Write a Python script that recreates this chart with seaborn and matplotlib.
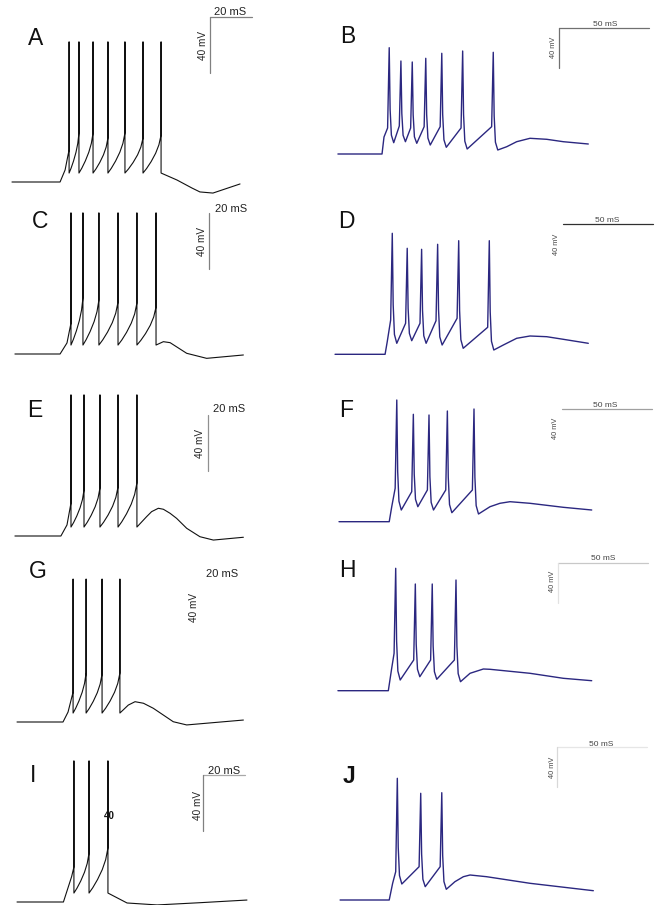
import matplotlib
matplotlib.use("Agg")
import matplotlib.pyplot as plt
import pandas as pd
import seaborn as sns

sns.set_style("white")
plt.rcParams['font.family'] = ['Liberation Sans', 'DejaVu Sans']

# ---------------- data (time in ms, membrane potential in mV) ----------------
# Left column (black traces)
A_onset_t = [5.7, 28.6, 31.0, 32.4]
A_onset_v = [-65, -65, -56.4, -45.7]
A_spike_t = [32.9, 37.6, 44.3, 51.4, 59.5, 68.1, 76.7]
A_pre_v = [-42.1, -30.0, -30.0, -33.6, -30.0, -33.6, -31.4]
A_peak_v = [35, 35, 35, 35, 35, 35, 35]
A_trough_v = [-58.6, -58.6, -58.6, -58.6, -58.6, -58.6, -58.6]
A_tail_t = [84.3, 91.4, 95.2, 101.4, 114.3]
A_tail_v = [-63.6, -69.3, -72.1, -72.9, -66.4]

C_onset_t = [7.1, 28.6, 31.9]
C_onset_v = [-65, -65, -57.1]
C_spike_t = [33.8, 39.5, 47.1, 56.2, 65.2, 74.3]
C_pre_v = [-42.9, -25.0, -26.4, -27.9, -28.6, -31.4]
C_peak_v = [35.7, 35.7, 35.7, 35.7, 35.7, 35.7]
C_trough_v = [-58.6, -58.6, -58.6, -58.6, -58.6, -58.6]
C_tail_t = [77.8, 81.0, 88.9, 98.4, 115.9]
C_tail_v = [-56.2, -56.9, -64.5, -68.1, -65.7]

E_onset_t = [7.1, 29.0, 31.9]
E_onset_v = [-65, -65, -57.1]
E_spike_t = [33.8, 40.0, 47.6, 56.2, 65.2]
E_pre_v = [-41.4, -32.1, -30.7, -30.0, -27.1]
E_peak_v = [35.7, 35.7, 35.7, 35.7, 35.7]
E_trough_v = [-58.6, -58.6, -58.6, -58.6, -58.6]
E_tail_t = [69.8, 72.2, 75.4, 77.8, 81.0, 84.1, 88.9, 95.2, 101.6, 115.9]
E_tail_v = [-51.2, -47.6, -45.2, -45.9, -48.8, -52.4, -59.5, -65.5, -67.9, -65.9]

G_onset_t = [8.1, 30.0, 32.4]
G_onset_v = [-65, -65, -57.9]
G_spike_t = [34.8, 41.0, 48.6, 57.1]
G_pre_v = [-43.6, -30.0, -30.7, -30.0]
G_peak_v = [37, 37, 37, 37]
G_trough_v = [-58.6, -58.6, -58.6, -58.6]
G_tail_t = [61.1, 64.3, 68.3, 73.0, 82.5, 88.9, 115.9]
G_tail_v = [-52.9, -50.5, -51.6, -55.2, -64.8, -67.1, -63.6]

I_onset_t = [8.1, 30.2, 34.1]
I_onset_v = [-65, -65, -46.9]
I_spike_t = [35.2, 42.4, 51.4]
I_pre_v = [-40.0, -30.0, -26.4]
I_peak_v = [35.7, 35.7, 35.7]
I_trough_v = [-58.6, -58.6, -58.6]
I_tail_t = [60.5, 74.8, 95.2, 117.6]
I_tail_v = [-65.7, -67.1, -65.5, -63.6]

# Right column (blue traces)
B_onset_t = [4.4, 28.9, 30.0]
B_onset_v = [-65, -65, -48]
B_spike_t = [32.9, 39.4, 45.7, 53.2, 62.1, 73.7, 90.7]
B_pre_v = [-39, -37, -39, -37.7, -37.7, -39, -37.7]
B_peak_v = [41.3, 28, 27, 30.7, 35.7, 38, 36.7]
B_trough_v = [-53.7, -52.7, -54.3, -56, -58.3, -60, -61]
B_tail_t = [98.2, 103.7, 111.1, 120.4, 129.6, 143.5]
B_tail_v = [-57.7, -52.7, -49.3, -50.3, -52.7, -55]

D_onset_t = [2.8, 30.6, 31.8]
D_onset_v = [-65, -65, -52.4]
D_spike_t = [34.6, 42.9, 50.9, 59.8, 71.5, 88.5]
D_pre_v = [-30.7, -34, -34, -31.4, -29, -38]
D_peak_v = [56, 41, 40, 45, 48.6, 48.6]
D_trough_v = [-54, -51.4, -54, -55.7, -59, -60.7]
D_tail_t = [96.3, 103.7, 111.1, 120.4, 129.6, 143.5]
D_tail_v = [-55.7, -49, -46.7, -47.4, -50, -54]

F_onset_t = [5.0, 32.9, 34.3]
F_onset_v = [-65, -65, -50]
F_spike_t = [37.1, 46.3, 55.0, 65.2, 80.0]
F_pre_v = [-31.6, -35, -33.3, -33.3, -33.3]
F_peak_v = [56.7, 42.4, 41.7, 45.7, 47.7]
F_trough_v = [-53.3, -50, -53.3, -56, -57.3]
F_tail_t = [88.9, 94.4, 100, 111.1, 129.6, 145.4]
F_tail_v = [-50, -46.6, -45, -46.6, -50.6, -53.3]

H_onset_t = [4.4, 32.4, 34.3]
H_onset_v = [-65, -65, -42.3]
H_spike_t = [36.5, 47.4, 56.8, 70.0]
H_pre_v = [-27.6, -34.3, -34.3, -34.3]
H_peak_v = [57.4, 41.7, 41.7, 45.7]
H_trough_v = [-54.3, -51, -53.6, -56]
H_tail_t = [77.8, 85.2, 88.9, 111.1, 129.6, 145.4]
H_tail_v = [-47.6, -43.3, -43.6, -47.6, -52.6, -55]

J_onset_t = [5.6, 32.9, 34.8]
J_onset_v = [-65, -65, -48.3]
J_spike_t = [37.4, 50.4, 62.1]
J_pre_v = [-36.7, -31.7, -31.7]
J_peak_v = [56.7, 41.7, 42.3]
J_trough_v = [-49, -51.7, -54.3]
J_tail_t = [69.4, 74.1, 77.8, 87.0, 111.1, 146.3]
J_tail_v = [-46.7, -41.7, -40, -41.7, -48.3, -55.7]

panel_labels = ['A', 'B', 'C', 'D', 'E', 'F', 'G', 'H', 'I', 'J']
time_bar_labels = {'left': '20 mS', 'right': '50 mS'}
volt_bar_label = '40 mV'
time_bar_ms = {'left': 20, 'right': 50}
volt_bar_mv = 40
extra_note = '40'

# shape of the inter-spike ramp of the left (black) traces
RAMP_T = [0, 0.2, 0.45, 0.7, 0.88, 1]
RAMP_V = [0, 0.12, 0.3, 0.52, 0.74, 1]
# shape of the spike repolarisation of the right (blue) traces
RISE_DT = 0.9
FALL_DT = [0.5, 1.2, 2.5]
FALL_FR = [0.35, 0.08, 0.0]

TRACES = {
    'A': (A_onset_t, A_onset_v, A_spike_t, A_pre_v, A_peak_v, A_trough_v, A_tail_t, A_tail_v),
    'C': (C_onset_t, C_onset_v, C_spike_t, C_pre_v, C_peak_v, C_trough_v, C_tail_t, C_tail_v),
    'E': (E_onset_t, E_onset_v, E_spike_t, E_pre_v, E_peak_v, E_trough_v, E_tail_t, E_tail_v),
    'G': (G_onset_t, G_onset_v, G_spike_t, G_pre_v, G_peak_v, G_trough_v, G_tail_t, G_tail_v),
    'I': (I_onset_t, I_onset_v, I_spike_t, I_pre_v, I_peak_v, I_trough_v, I_tail_t, I_tail_v),
    'B': (B_onset_t, B_onset_v, B_spike_t, B_pre_v, B_peak_v, B_trough_v, B_tail_t, B_tail_v),
    'D': (D_onset_t, D_onset_v, D_spike_t, D_pre_v, D_peak_v, D_trough_v, D_tail_t, D_tail_v),
    'F': (F_onset_t, F_onset_v, F_spike_t, F_pre_v, F_peak_v, F_trough_v, F_tail_t, F_tail_v),
    'H': (H_onset_t, H_onset_v, H_spike_t, H_pre_v, H_peak_v, H_trough_v, H_tail_t, H_tail_v),
    'J': (J_onset_t, J_onset_v, J_spike_t, J_pre_v, J_peak_v, J_trough_v, J_tail_t, J_tail_v),
}


def build_left(onset_t, onset_v, spike_t, pre_v, peak_v, trough_v, tail_t, tail_v):
    t, v = list(onset_t), list(onset_v)
    for i, ts in enumerate(spike_t):
        if i > 0:
            t0, v0 = spike_t[i - 1], trough_v[i - 1]
            for ft, fv in zip(RAMP_T[1:-1], RAMP_V[1:-1]):
                t.append(t0 + ft * (ts - t0))
                v.append(v0 + fv * (pre_v[i] - v0))
        t += [ts, ts, ts]
        v += [pre_v[i], peak_v[i], trough_v[i]]
    t += list(tail_t)
    v += list(tail_v)
    return pd.DataFrame({'t': t, 'v': v})


def build_right(onset_t, onset_v, spike_t, pre_v, peak_v, trough_v, tail_t, tail_v):
    t, v = list(onset_t), list(onset_v)
    for i, ts in enumerate(spike_t):
        t += [ts - RISE_DT, ts]
        v += [pre_v[i], peak_v[i]]
        amp = peak_v[i] - trough_v[i]
        for dt, fr in zip(FALL_DT, FALL_FR):
            t.append(ts + dt)
            v.append(trough_v[i] + fr * amp)
    t += list(tail_t)
    v += list(tail_v)
    return pd.DataFrame({'t': t, 'v': v})


# ---------------- layout (pixels of the 667 x 905 canvas) ----------------
W, H = 667, 905
COL = {
    'left': dict(x0=0, x1=265, kt=2.1, kv=1.4, xref=0),
    'right': dict(x0=330, x1=667, kt=1.8, kv=1.0, xref=330),
}
PANEL = {
    'A': dict(col='left', top=0, bottom=190, base=182),
    'C': dict(col='left', top=190, bottom=370, base=354),
    'E': dict(col='left', top=370, bottom=545, base=536),
    'G': dict(col='left', top=545, bottom=725, base=722),
    'I': dict(col='left', top=725, bottom=905, base=902),
    'B': dict(col='right', top=0, bottom=190, base=154),
    'D': dict(col='right', top=190, bottom=370, base=354.3),
    'F': dict(col='right', top=370, bottom=545, base=521.7),
    'H': dict(col='right', top=545, bottom=725, base=690.7),
    'J': dict(col='right', top=725, bottom=905, base=900),
}
LABEL_POS = {'A': (36, 45), 'B': (347.5, 43), 'C': (40, 228), 'D': (346, 228),
             'E': (35, 417), 'F': (346.5, 417), 'G': (38, 578), 'H': (347, 577),
             'I': (33, 782), 'J': (349, 783)}
BAR = {
    'A': dict(corner=(210, 17), hc='#808080', vc='#808080', tpos=(230, 15), vpos=(203, 46)),
    'C': dict(corner=(209, 213), hc=None, vc='#808080', tpos=(231, 212), vpos=(202, 242)),
    'E': dict(corner=(208, 415), hc=None, vc='#909090', tpos=(229, 412), vpos=(200, 444)),
    'G': dict(corner=None, hc=None, vc=None, tpos=(222, 577), vpos=(194, 607)),
    'I': dict(corner=(203, 775), hc='#a8a8a8', vc='#808080', tpos=(224, 774), vpos=(198, 805)),
    'B': dict(corner=(559, 28), hc='#707070', vc='#707070', tpos=(605, 26), vpos=(553.5, 47.5)),
    'D': dict(corner=(563, 224), hc='#303030', vc=None, tpos=(607.5, 222), vpos=(557, 244)),
    'F': dict(corner=(562, 409), hc='#a0a0a0', vc=None, tpos=(605.5, 407), vpos=(555.5, 428.5)),
    'H': dict(corner=(558, 563), hc='#c8c8c8', vc='#e2e2e2', tpos=(603.5, 560), vpos=(552, 581.5)),
    'J': dict(corner=(557, 747), hc='#e6e6e6', vc='#d8d8d8', tpos=(601, 746), vpos=(552, 767.5)),
}
LINE_COLOR = {'left': '#111111', 'right': '#2b2780'}
LINE_W = {'left': 0.8, 'right': 1.0}

fig = plt.figure(figsize=(W / 100, H / 100), dpi=100, facecolor='white')


def fx(x):
    return x / W


def fy(y):
    return 1 - y / H


for name in panel_labels:
    p = PANEL[name]
    c = COL[p['col']]
    ax = fig.add_axes([fx(c['x0']), fy(p['bottom']), (c['x1'] - c['x0']) / W,
                       (p['bottom'] - p['top']) / H])
    ax.set_xlim((c['x0'] - c['xref']) / c['kt'], (c['x1'] - c['xref']) / c['kt'])
    ax.set_ylim(-65 + (p['base'] - p['bottom']) / c['kv'], -65 + (p['base'] - p['top']) / c['kv'])
    ax.axis('off')
    ax.patch.set_alpha(0)

    builder = build_left if p['col'] == 'left' else build_right
    df = builder(*TRACES[name])
    sns.lineplot(data=df, x='t', y='v', sort=False, estimator=None, ax=ax,
                 color=LINE_COLOR[p['col']], linewidth=LINE_W[p['col']], legend=False)

    b = BAR[name]
    if b['corner'] is not None:
        t0 = (b['corner'][0] - c['xref']) / c['kt']
        v0 = -65 + (p['base'] - b['corner'][1]) / c['kv']
        if b['hc']:
            ax.plot([t0, t0 + time_bar_ms[p['col']]], [v0, v0], color=b['hc'], lw=0.9)
        if b['vc']:
            ax.plot([t0, t0], [v0, v0 - volt_bar_mv], color=b['vc'], lw=0.9)
    for ln in ax.lines:
        ln.set_clip_on(False)

    # texts
    lx, ly = LABEL_POS[name]
    fig.text(fx(lx), fy(ly), name, fontsize=16.5, ha='center', va='baseline',
             fontweight='bold' if name == 'J' else 'normal', color='#111111')
    small_t = 8 if p['col'] == 'left' else 6
    small_v = 7.2 if p['col'] == 'left' else 5.3
    tc = '#222222' if p['col'] == 'left' else '#444444'
    fig.text(fx(b['tpos'][0]), fy(b['tpos'][1]), time_bar_labels[p['col']],
             fontsize=small_t, ha='center', va='baseline', color=tc)
    fig.text(fx(b['vpos'][0]), fy(b['vpos'][1]), volt_bar_label, fontsize=small_v,
             ha='center', va='center', rotation=90, color=tc)

fig.text(fx(109.5), fy(819), extra_note, fontsize=7, fontweight='bold', ha='center',
         va='baseline', color='#111111')

fig.savefig('out.png', dpi=100, facecolor='white')
